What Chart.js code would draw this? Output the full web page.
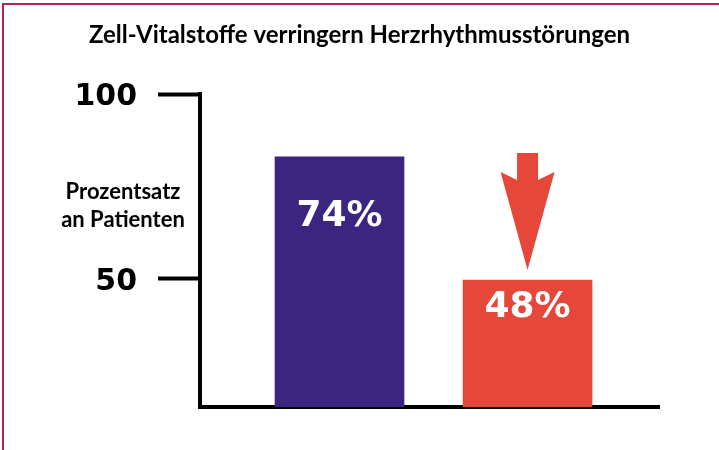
<!DOCTYPE html>
<html>
<head>
<meta charset="utf-8">
<script src="https://cdn.jsdelivr.net/npm/chart.js@4.4.1/dist/chart.umd.min.js"></script>
<style>
  html, body { margin:0; padding:0; background:#fff; }
  #wrap { position:relative; width:719px; height:450px; }
  #frame { position:absolute; left:2px; top:3px; right:0; bottom:0; border-left:2px solid #b2245a; border-top:2px solid #b2245a; pointer-events:none; }
  canvas { position:absolute; left:0; top:0; }
</style>
</head>
<body>
<div id="wrap">
  <canvas id="c" width="719" height="450"></canvas>
  <div id="frame"></div>
</div>
<script>
// ── Data ───────────────────────────────────────────────────────
const title      = 'Zell-Vitalstoffe verringern Herzrhythmusstörungen';
const yTitle     = ['Prozentsatz', 'an Patienten'];
const yTicks     = [50, 100];
// bar heights as drawn against the 50/100 ticks (the artwork isn't to scale)
const barValues  = [83, 49.7];
const barLabels  = ['74%', '48%'];
const barColors  = ['#3b2580', '#e5473a'];

const HUMAN = 'Lato, "Open Sans", sans-serif';
const HEAVY = '"DejaVu Sans", Arial, sans-serif';

// ── Plugins ────────────────────────────────────────────────────
// page title, centred on the whole canvas rather than the padded layout box
const pageTitle = {
  id:'pageTitle',
  afterDraw(chart) {
    const {ctx} = chart;
    ctx.save();
    ctx.fillStyle = '#000';
    ctx.font = 'bold 24px ' + HUMAN;
    ctx.textAlign = 'center';
    ctx.textBaseline = 'alphabetic';
    ctx.fillText(title, chart.width / 2, 43);
    ctx.restore();
  }
};

const barText = {
  id:'barText',
  afterDatasetsDraw(chart, args, opts) {
    const {ctx} = chart;
    ctx.save();
    ctx.fillStyle = '#fff';
    ctx.font = 'bold 36px ' + HEAVY;
    ctx.textAlign = 'center';
    ctx.textBaseline = 'middle';
    chart.getDatasetMeta(0).data.forEach((bar, i) => {
      ctx.fillText(barLabels[i], bar.x, bar.y + opts.offsets[i]);
    });
    ctx.restore();
  }
};

const downArrow = {
  id:'downArrow',
  afterDatasetsDraw(chart, args, opts) {
    const bar = chart.getDatasetMeta(0).data[opts.index];
    if (!bar) return;
    const {ctx} = chart;
    const x = bar.x, tip = bar.y - 10;
    ctx.save();
    ctx.fillStyle = barColors[opts.index];
    ctx.beginPath();
    ctx.moveTo(x - 10.5, tip - 117);
    ctx.lineTo(x + 10.5, tip - 117);
    ctx.lineTo(x + 10.5, tip - 90);
    ctx.lineTo(x + 27, tip - 98);
    ctx.lineTo(x, tip);
    ctx.lineTo(x - 27, tip - 98);
    ctx.lineTo(x - 10.5, tip - 90);
    ctx.closePath();
    ctx.fill();
    ctx.restore();
  }
};

const axisTitle = {
  id:'axisTitle',
  afterDraw(chart) {
    const {ctx, chartArea} = chart;
    const y = chart.scales.y;
    const mid = (y.getPixelForValue(yTicks[0]) + y.getPixelForValue(yTicks[1])) / 2;
    ctx.save();
    ctx.fillStyle = '#000';
    ctx.font = 'bold 22px ' + HUMAN;
    ctx.textAlign = 'center';
    ctx.textBaseline = 'alphabetic';
    yTitle.forEach((t, i) => ctx.fillText(t, chartArea.left - 77, mid + 12.5 + i * 28));
    ctx.restore();
  }
};

// ── Chart ──────────────────────────────────────────────────────
new Chart(document.getElementById('c'), {
  type:'bar',
  data:{ datasets:[{
    data: barValues.map((v, i) => ({ x:i + 1, y:v })),
    backgroundColor: barColors,
    borderWidth:0,
    barThickness:129,
  }]},
  options:{
    responsive:false,
    animation:false,
    layout:{ padding:{ left:0, right:60, top:94, bottom:43 } },
    plugins:{
      legend:{ display:false },
      tooltip:{ enabled:false },
      title:{ display:false },
      barText:{ offsets:[60, 28] },
      downArrow:{ index:1 },
    },
    scales:{
      x:{ type:'linear', min:0.258, max:2.699, offset:false,
        ticks:{ display:false }, grid:{ display:false, offset:false },
        border:{ display:true, color:'#000', width:4 },
        afterFit:s => { s.height = 0; } },
      y:{ min:15.4, max:100,
        afterBuildTicks:s => { s.ticks = yTicks.map(v => ({ value:v })); },
        ticks:{ color:'#000', padding:21, labelOffset:3, font:{ family:HEAVY, size:30, weight:'bold' } },
        grid:{ drawOnChartArea:false, drawTicks:true, tickLength:42, tickWidth:4, tickColor:'#000' },
        border:{ display:true, color:'#000', width:4 },
        afterFit:s => { s.width = 200; } },
    },
  },
  plugins:[pageTitle, barText, downArrow, axisTitle],
});
</script>
</body>
</html>
